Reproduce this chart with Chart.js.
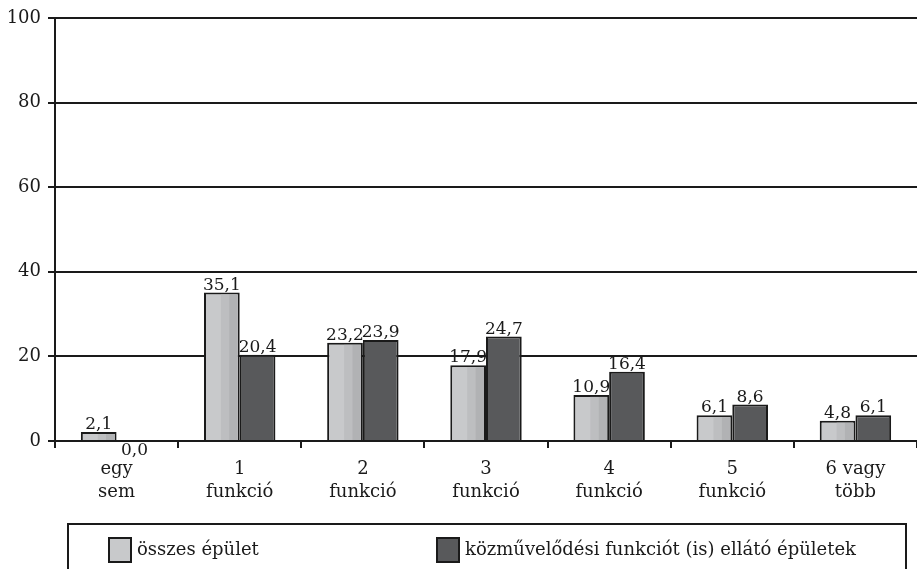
<!DOCTYPE html>
<html>
<head>
<meta charset="utf-8">
<script src="https://cdn.jsdelivr.net/npm/chart.js@4/dist/chart.umd.min.js"></script>
<style>
  html, body { margin: 0; padding: 0; background: #fff; overflow: hidden; }
  #wrap { width: 917px; height: 569px; }
</style>
</head>
<body>
<div id="wrap"><canvas id="myChart" width="917" height="569"></canvas></div>
<script>
const categories = [['egy', 'sem'], ['1', 'funkció'], ['2', 'funkció'], ['3', 'funkció'],
  ['4', 'funkció'], ['5', 'funkció'], ['6 vagy', 'több']];
const osszesEpulet = [2.1, 35.1, 23.2, 17.9, 10.9, 6.1, 4.8];
const kozmuvelodesi = [0.0, 20.4, 23.9, 24.7, 16.4, 8.6, 6.1];
const seriesNames = ['összes épület', 'közművelődési funkciót (is) ellátó épületek'];
const yTicks = [0, 20, 40, 60, 80, 100];

const INK = '#1a1a1a';
Chart.defaults.font.family = "'DejaVu Serif', serif";
Chart.defaults.font.size = 18;
Chart.defaults.color = INK;

const fmt = (v) => v.toFixed(1).replace('.', ',');

// stripes on the light bars + value labels
const barDecor = {
  id: 'barDecor',
  afterDatasetsDraw(chart) {
    const ctx = chart.ctx;
    ctx.save();
    const m0 = chart.getDatasetMeta(0);
    m0.data.forEach((bar) => {
      const { x, y, base, width } = bar.getProps(['x', 'y', 'base', 'width'], true);
      const l = x - width / 2 + 2, r = x + width / 2 - 2;
      const t = y + 2, b = base;
      if (b - t <= 0) return;
      const w = r - l;
      ctx.fillStyle = '#bdbec0';
      ctx.fillRect(l + w * 0.47, t, w * 0.26, b - t);
      ctx.fillStyle = '#b1b2b4';
      ctx.fillRect(l + w * 0.73, t, w * 0.27, b - t);
    });
    ctx.fillStyle = INK;
    ctx.font = "17px 'DejaVu Serif'";
    ctx.textAlign = 'center';
    chart.data.datasets.forEach((ds, di) => {
      chart.getDatasetMeta(di).data.forEach((bar, i) => {
        const v = ds.data[i];
        if (v === 0) {
          ctx.textBaseline = 'top';
          ctx.fillText(fmt(v), bar.x, bar.y + 1);
        } else {
          ctx.textBaseline = 'alphabetic';
          ctx.fillText(fmt(v), bar.x, bar.y - 3);
        }
      });
    });
    ctx.restore();
  }
};

// boxed legend at the bottom
const boxLegend = {
  id: 'boxLegend',
  afterDraw(chart) {
    const ctx = chart.ctx;
    ctx.save();
    ctx.strokeStyle = INK;
    ctx.lineWidth = 2;
    ctx.strokeRect(68, 524, 838, 60);
    const xs = [109, 437];
    ctx.font = "18px 'DejaVu Serif'";
    ctx.textBaseline = 'middle';
    ctx.textAlign = 'left';
    chart.data.datasets.forEach((ds, i) => {
      ctx.fillStyle = ds.backgroundColor;
      ctx.fillRect(xs[i], 538, 22, 24);
      ctx.strokeRect(xs[i], 538, 22, 24);
      ctx.fillStyle = INK;
      ctx.fillText(ds.label, xs[i] + 28, 550);
    });
    ctx.restore();
  }
};

new Chart(document.getElementById('myChart'), {
  type: 'bar',
  data: {
    labels: categories,
    datasets: [
      { label: seriesNames[0], data: osszesEpulet, backgroundColor: '#c8c9cb',
        borderColor: INK, borderWidth: 2, borderSkipped: 'bottom' },
      { label: seriesNames[1], data: kozmuvelodesi, backgroundColor: '#58595b',
        borderColor: INK, borderWidth: 2, borderSkipped: 'bottom' }
    ]
  },
  options: {
    responsive: false,
    animation: false,
    layout: { padding: { top: 18, right: -7, bottom: 58, left: 0 } },
    datasets: { bar: { barPercentage: 1, categoryPercentage: 0.58 } },
    plugins: { legend: { display: false }, tooltip: { enabled: false } },
    scales: {
      x: {
        grid: { drawOnChartArea: false, offset: true, tickLength: 7, color: INK, lineWidth: 2 },
        border: { color: INK, width: 2 },
        ticks: { padding: 10, maxRotation: 0, font: { size: 18, lineHeight: 1.28 } },
        afterFit(scale) { scale.height = 70; }
      },
      y: {
        min: 0, max: 100,
        afterBuildTicks(scale) { scale.ticks = yTicks.map((v) => ({ value: v })); },
        grid: { color: INK, lineWidth: 2, tickLength: 7 },
        border: { color: INK, width: 2 },
        ticks: { padding: 7 },
        afterFit(scale) { scale.width = 55; }
      }
    }
  },
  plugins: [barDecor, boxLegend]
});
</script>
</body>
</html>
